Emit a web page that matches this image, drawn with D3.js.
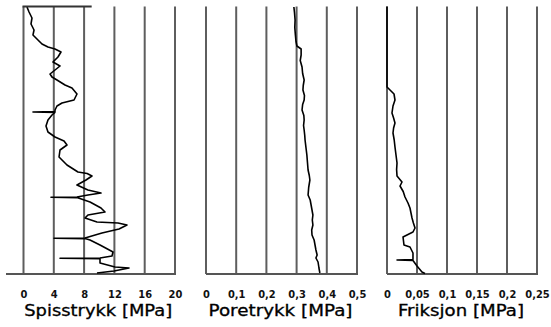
<!DOCTYPE html>
<html><head><meta charset="utf-8">
<script src="https://cdn.jsdelivr.net/npm/d3@7"></script>
<style>html,body{margin:0;padding:0;background:#fff;}svg{display:block;}</style>
</head><body>
<script>
// ---- data ----
const ticksQ = [0, 4, 8, 12, 16, 20];
const ticksU = [0, 0.1, 0.2, 0.3, 0.4, 0.5];
const ticksF = [0, 0.05, 0.1, 0.15, 0.2, 0.25];
const titles = ["Spisstrykk [MPa]", "Poretrykk [MPa]", "Friksjon [MPa]"];

// Spisstrykk: [depth m, MPa]
const spiss = [
 [0.05,0.46],[0.55,0.73],[1.15,1.12],[1.75,0.99],[2.35,1.39],[2.85,1.25],[3.35,1.91],[3.75,2.44],
 [4.05,3.23],[4.25,4.16],[4.55,4.95],[5.05,4.55],[5.55,3.89],[5.95,4.82],[6.35,4.16],[6.75,3.50],
 [7.05,3.76],[7.35,4.42],[7.85,5.48],[8.15,6.40],[8.75,7.06],[9.35,6.67],[9.65,5.08],[9.95,4.42],
 [10.35,4.16],[10.5,4.16],[10.55,1.25],[10.6,4.16],[10.85,3.76],[11.35,3.23],[11.95,2.97],[12.55,3.23],
 [13.05,4.16],[13.45,5.35],[13.85,5.74],[14.35,4.82],[15.05,4.69],[15.85,5.74],[16.55,7.19],[16.7,8.4],
 [16.95,9.04],[17.35,8.25],[17.85,7.06],[18.35,8.51],[18.65,10.23],[18.85,8.51],[19.05,7.06],[19.08,3.63],
 [19.11,7.06],[19.55,8.78],[20.15,10.23],[20.55,10.76],[20.85,8.51],[21.15,8.12],[21.55,9.70],[21.65,12.48],
 [21.85,13.66],[22.25,12.61],[22.65,10.36],[23.15,8.12],[23.18,4.03],[23.21,8.12],[23.35,8.78],[23.85,10.10],
 [24.55,11.82],[24.95,11.68],[25.15,10.10],[25.18,4.82],[25.21,10.10],[25.65,10.10],[26.05,12.08],[26.15,13.93],
 [26.45,11.95],[26.65,9.70]
];
// Poretrykk
const pore = [
 [0.05,0.291],[0.6,0.293],[1.35,0.295],[2.1,0.294],[2.85,0.296],[3.5,0.298],[3.95,0.301],[4.25,0.315],[4.85,0.315],
 [5.4,0.312],[6.05,0.318],[6.7,0.320],[7.35,0.325],[7.9,0.322],[8.35,0.321],[8.9,0.326],[9.35,0.325],[9.8,0.320],
 [10.35,0.318],[10.9,0.324],[11.35,0.325],[11.9,0.323],[12.35,0.325],[12.9,0.327],[13.35,0.328],[14.1,0.331],
 [14.85,0.334],[15.6,0.336],[16.35,0.338],[16.9,0.342],[17.35,0.344],[18.1,0.340],[18.85,0.338],[19.35,0.345],
 [19.85,0.348],[20.35,0.351],[20.85,0.354],[21.35,0.352],[21.85,0.354],[22.35,0.350],[22.85,0.351],[23.35,0.358],
 [23.85,0.361],[24.35,0.364],[24.85,0.368],[25.15,0.364],[25.55,0.371],[26.15,0.374],[26.65,0.377]
];
// Friksjon
const frik = [
 [0,0],[8.05,0],[8.35,0.005],[8.75,0.0117],[9.35,0.0133],[9.95,0.010],[10.65,0.0083],[11.15,0.011],[11.65,0.0133],
 [12.15,0.011],[12.65,0.010],[13.35,0.012],[14.05,0.0133],[14.85,0.015],[15.65,0.0167],[16.3,0.016],[16.95,0.0167],
 [17.55,0.025],[17.95,0.0217],[18.5,0.027],[19.05,0.030],[19.65,0.035],[20.15,0.0383],[20.65,0.040],[21.15,0.0417],
 [21.65,0.044],[22.15,0.0467],[22.55,0.0433],[22.85,0.0333],[23.05,0.0267],[23.85,0.0283],[24.05,0.0383],[24.65,0.0433],
 [25.3,0.0433],[25.35,0.0167],[25.4,0.0433],[25.95,0.050],[26.55,0.0583],[26.7,0.0633]
];
const topMarker = [0, 9]; // horizontal line at depth 0 in Spisstrykk panel (MPa)

// ---- drawing ----
const W = 551, H = 327;
const svg = d3.select("body").append("svg").attr("width", W).attr("height", H);
const y = d3.scaleLinear().domain([0, 26.75]).range([6.5, 274]);
const loc = d3.formatLocale({decimal: ",", thousands: " ", grouping: [3], currency: ["", ""]});
const fmt = v => loc.format("~g")(v);

const panels = [
  {data: spiss, ticks: ticksQ, x: d3.scaleLinear().domain([0, 20]).range([23.5, 175]), baseStart: 6, title: titles[0], tw: 148},
  {data: pore,  ticks: ticksU, x: d3.scaleLinear().domain([0, 0.5]).range([206, 357]), baseStart: 206, title: titles[1], tw: 144},
  {data: frik,  ticks: ticksF, x: d3.scaleLinear().domain([0, 0.25]).range([387, 537]), baseStart: 387, title: titles[2], tw: 126}
];

panels.forEach((p, i) => {
  const g = svg.append("g");
  g.selectAll("line.v").data(p.ticks).enter().append("line")
    .attr("x1", d => p.x(d)).attr("x2", d => p.x(d))
    .attr("y1", y(0)).attr("y2", y.range()[1])
    .attr("stroke", "#5e5e5e").attr("stroke-width", 2);
  g.append("line")
    .attr("x1", p.baseStart).attr("x2", p.x.range()[1] + 1)
    .attr("y1", y.range()[1]).attr("y2", y.range()[1])
    .attr("stroke", "#555").attr("stroke-width", 2);
  const ax = d3.axisBottom(p.x).tickValues(p.ticks).tickSize(0).tickPadding(0).tickFormat(fmt);
  const axg = g.append("g").attr("transform", `translate(0,${290})`).call(ax);
  axg.select(".domain").remove();
  axg.selectAll("text").attr("font-family", "DejaVu Sans Condensed, DejaVu Sans").attr("font-size", 11)
    .attr("font-weight", "bold").attr("fill", "#111");
  const cx = (p.x.range()[0] + p.x.range()[1]) / 2;
  g.append("text").attr("x", cx - 1).attr("y", 316).attr("text-anchor", "middle")
    .attr("font-family", "DejaVu Sans").attr("font-size", 15).attr("fill", "#000")
    .attr("stroke", "#000").attr("stroke-width", 0.3)
    .attr("textLength", p.tw).attr("lengthAdjust", "spacingAndGlyphs")
    .text(p.title);
  const line = d3.line().x(d => p.x(d[1])).y(d => y(d[0]));
  g.append("path").datum(p.data).attr("d", line)
    .attr("fill", "none").attr("stroke", "#000").attr("stroke-width", 1.6)
    .attr("stroke-linejoin", "round");
  if (i === 0) {
    g.append("line").attr("x1", p.x(topMarker[0]) - 1).attr("x2", p.x(topMarker[1]))
      .attr("y1", y(0)).attr("y2", y(0)).attr("stroke", "#333").attr("stroke-width", 2);
  }
});
</script>
</body></html>
